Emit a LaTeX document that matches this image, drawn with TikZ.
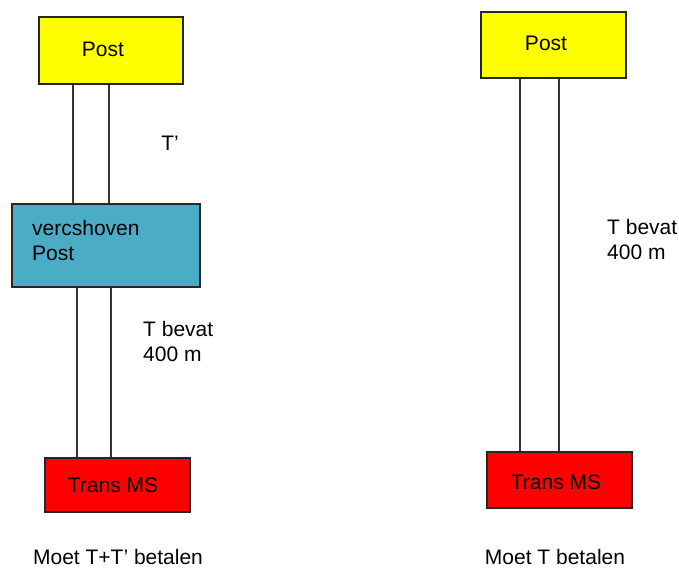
\documentclass[tikz,border=0pt]{standalone}
\usepackage{fontspec}
\setmainfont{Liberation Sans}
\usepackage{xcolor}
\usetikzlibrary{positioning,calc}

\definecolor{postyellow}{HTML}{FFFF00}
\definecolor{verscyan}{HTML}{4BACC6}
\definecolor{transred}{HTML}{FF0000}
\definecolor{cable}{HTML}{333333}

\tikzset{
    box/.style={draw=black!85, line width=1.6pt, rectangle, inner sep=0pt},
    cableline/.style={draw=cable, line width=1.8pt},
    lbl/.style={inner sep=0pt, align=left}
}

\begin{document}
\begin{tikzpicture}[x=1pt, y=-1pt, every node/.style={font=\fontsize{21}{24.5}\selectfont}]
    \useasboundingbox (0,0) rectangle (679,569);

    % left: Post - vercshoven Post - Trans MS
    \node [box, fill=postyellow, minimum width=144pt, minimum height=67pt] (postA) at (110.8,50.7) {};
    \node [lbl] (postAtext) at (103,49) {Post};
    \node [box, fill=verscyan, minimum width=188pt, minimum height=83pt] (vers) at (106,245.5) {};
    \node [lbl, anchor=west] (verstext) at (32,240.5) {vercshoven\\Post};
    \node [box, fill=transred, minimum width=145pt, minimum height=54pt] (transA) at (117.5,485) {};
    \node [lbl] (transAtext) at (113,485) {Trans MS};

    % cables left
    \path ([xshift=-37.5pt]postA.south) coordinate (a1) ([xshift=-2.1pt]postA.south) coordinate (a2);
    \draw [cableline] (a1) -- (a1 |- vers.north);
    \draw [cableline] (a2) -- (a2 |- vers.north);
    \path ([xshift=-28.7pt]vers.south) coordinate (b1) ([xshift=5.3pt]vers.south) coordinate (b2);
    \draw [cableline] (b1) -- (b1 |- transA.north);
    \draw [cableline] (b2) -- (b2 |- transA.north);

    \node [lbl] (tprime) at (170,143) {T’};
    \node [lbl, anchor=west] (bevatA) at (143,341.5) {T bevat\\400 m};
    \node [lbl] (payA) at (118,557) {Moet T+T’ betalen};

    % right: Post - Trans MS
    \node [box, fill=postyellow, minimum width=145pt, minimum height=66pt] (postB) at (553.5,45) {};
    \node [lbl] (postBtext) at (546,43) {Post};
    \node [box, fill=transred, minimum width=145pt, minimum height=56pt] (transB) at (559.5,480) {};
    \node [lbl] (transBtext) at (556,482) {Trans MS};

    % cables right
    \path ([xshift=-33.5pt]postB.south) coordinate (c1) ([xshift=5.5pt]postB.south) coordinate (c2);
    \draw [cableline] (c1) -- (c1 |- transB.north);
    \draw [cableline] (c2) -- (c2 |- transB.north);

    \node [lbl, anchor=west] (bevatB) at (607,239.5) {T bevat\\400 m};
    \node [lbl] (payB) at (555,557) {Moet T betalen};
\end{tikzpicture}
\end{document}
